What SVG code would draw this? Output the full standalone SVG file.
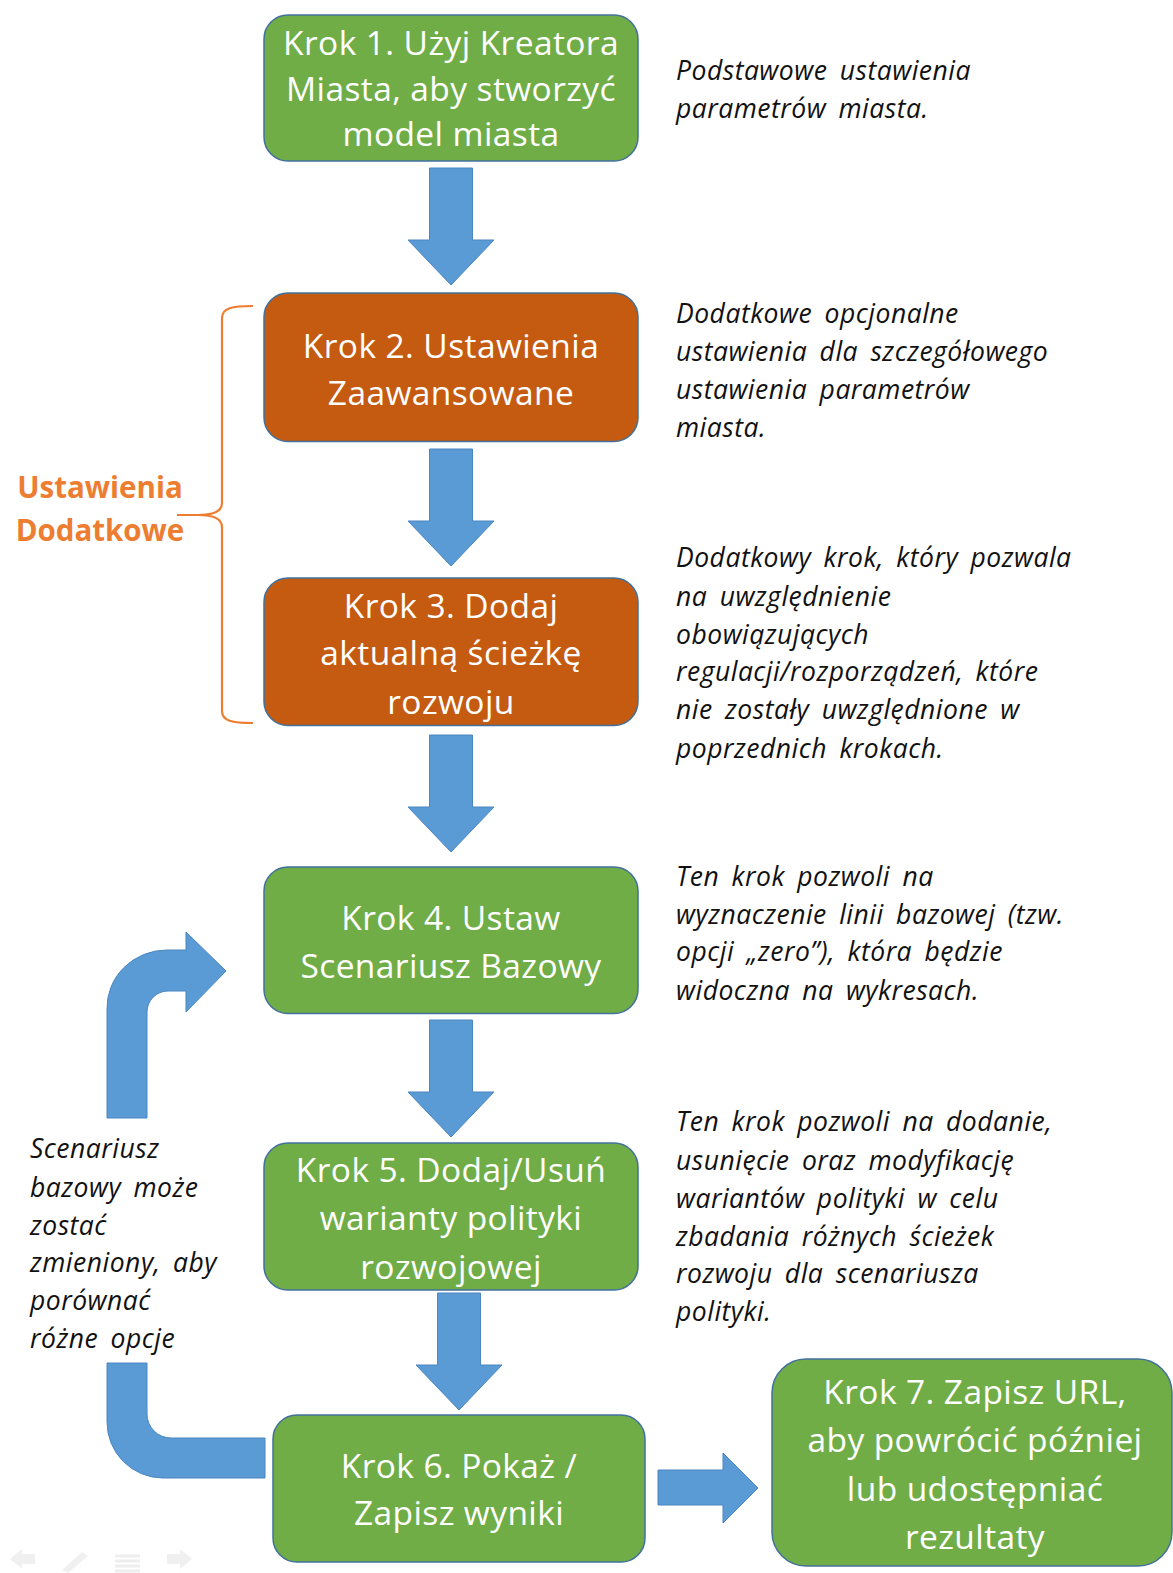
<svg xmlns="http://www.w3.org/2000/svg" xmlns:xlink="http://www.w3.org/1999/xlink" width="1173" height="1573" viewBox="0 0 1173 1573">
<defs>
<style>
.g{fill:#70AD47;stroke:#41719C;stroke-width:1.5}
.o{fill:#C55A11;stroke:#41719C;stroke-width:1.5}
.bt{font-family:"Open Sans","Liberation Sans",sans-serif;font-size:33.5px;letter-spacing:0.4px;fill:#ffffff;text-anchor:middle}
.it{font-family:"Open Sans","Liberation Sans",sans-serif;font-style:italic;font-size:26.5px;letter-spacing:0.5px;word-spacing:5px;fill:#111111}
.ot{font-family:"Open Sans","Liberation Sans",sans-serif;font-weight:bold;font-size:29.5px;fill:#ED7D31;text-anchor:middle}
.ar{fill:#5B9BD5;stroke:#4a86c0;stroke-width:1}
.ic{fill:#f0f0f0}
</style>
<path id="dn" d="M-21.5,0 h43 v72 h21.5 l-43,45 l-43,-45 h21.5 z"/>
</defs>
<rect width="1173" height="1573" fill="#ffffff"/>

<g id="connectors">
<use xlink:href="#dn" class="ar" x="451" y="168"/>
<use xlink:href="#dn" class="ar" x="451" y="449"/>
<use xlink:href="#dn" class="ar" x="451" y="735"/>
<use xlink:href="#dn" class="ar" x="451" y="1020"/>
<use xlink:href="#dn" class="ar" x="459" y="1293"/>
<path class="ar" d="M658,1470 H723 V1453 L758,1488 L723,1523 V1505 H658 Z"/>
<path class="ar" d="M107,1118 L107,1010 A60,58 0 0 1 167,950 L186,950 L186,932 L226,971 L186,1012 L186,991 L168,991 A21,21 0 0 0 147,1012 L147,1118 Z"/>
<path class="ar" d="M107,1363 L147,1363 L147,1414 A24,24 0 0 0 171,1438 L265,1438 L265,1478 L163,1478 A56,56 0 0 1 107,1422 Z"/>
</g>

<g id="bracket">
<path d="M253,306 C232,306 222,308 222,318 L222,503 C222,511 214,515 198,515 L177,515 M198,515 C214,515 222,519 222,527 L222,711 C222,721 232,723 253,723" fill="none" stroke="#ED7D31" stroke-width="2.2"/>
<text class="ot" x="100" y="498">Ustawienia</text>
<text class="ot" x="100" y="541">Dodatkowe</text>
</g>

<g id="step1">
<rect class="g" x="264" y="15" width="374" height="146" rx="24"/>
<text class="bt" x="451" y="55">Krok 1. Użyj Kreatora</text>
<text class="bt" x="451" y="101">Miasta, aby stworzyć</text>
<text class="bt" x="451" y="146">model miasta</text>
</g>
<g id="step2">
<rect class="o" x="264" y="293" width="374" height="148.5" rx="24"/>
<text class="bt" x="451" y="358">Krok 2. Ustawienia</text>
<text class="bt" x="451" y="405">Zaawansowane</text>
</g>
<g id="step3">
<rect class="o" x="264" y="578" width="374" height="147.5" rx="24"/>
<text class="bt" x="451" y="618">Krok 3. Dodaj</text>
<text class="bt" x="451" y="665">aktualną ścieżkę</text>
<text class="bt" x="451" y="714">rozwoju</text>
</g>
<g id="step4">
<rect class="g" x="264" y="867" width="374" height="146.5" rx="24"/>
<text class="bt" x="451" y="930">Krok 4. Ustaw</text>
<text class="bt" x="451" y="978">Scenariusz Bazowy</text>
</g>
<g id="step5">
<rect class="g" x="264" y="1143" width="374" height="147" rx="24"/>
<text class="bt" x="451" y="1182">Krok 5. Dodaj/Usuń</text>
<text class="bt" x="451" y="1230">warianty polityki</text>
<text class="bt" x="451" y="1279">rozwojowej</text>
</g>
<g id="step6">
<rect class="g" x="273" y="1415" width="372" height="147" rx="24"/>
<text class="bt" x="459" y="1478">Krok 6. Pokaż /</text>
<text class="bt" x="459" y="1525">Zapisz wyniki</text>
</g>
<g id="step7">
<rect class="g" x="772" y="1359" width="400" height="207" rx="34"/>
<text class="bt" x="975" y="1404">Krok 7. Zapisz URL,</text>
<text class="bt" x="975" y="1452">aby powrócić później</text>
<text class="bt" x="975" y="1501">lub udostępniać</text>
<text class="bt" x="975" y="1549">rezultaty</text>
</g>

<g id="notes">
<text class="it" x="676" y="80">Podstawowe ustawienia</text>
<text class="it" x="676" y="118">parametrów miasta.</text>

<text class="it" x="676" y="323">Dodatkowe opcjonalne</text>
<text class="it" x="676" y="361">ustawienia dla szczegółowego</text>
<text class="it" x="676" y="399">ustawienia parametrów</text>
<text class="it" x="676" y="437">miasta.</text>

<text class="it" x="676" y="567">Dodatkowy krok, który pozwala</text>
<text class="it" x="676" y="606">na uwzględnienie</text>
<text class="it" x="676" y="644">obowiązujących</text>
<text class="it" x="676" y="681">regulacji/rozporządzeń, które</text>
<text class="it" x="676" y="719">nie zostały uwzględnione w</text>
<text class="it" x="676" y="758">poprzednich krokach.</text>

<text class="it" x="676" y="886">Ten krok pozwoli na</text>
<text class="it" x="676" y="924">wyznaczenie linii bazowej (tzw.</text>
<text class="it" x="676" y="961">opcji „zero”), która będzie</text>
<text class="it" x="676" y="1000">widoczna na wykresach.</text>

<text class="it" x="676" y="1131">Ten krok pozwoli na dodanie,</text>
<text class="it" x="676" y="1170">usunięcie oraz modyfikację</text>
<text class="it" x="676" y="1208">wariantów polityki w celu</text>
<text class="it" x="676" y="1246">zbadania różnych ścieżek</text>
<text class="it" x="676" y="1283">rozwoju dla scenariusza</text>
<text class="it" x="676" y="1321">polityki.</text>

<text class="it" x="30" y="1158">Scenariusz</text>
<text class="it" x="30" y="1197">bazowy może</text>
<text class="it" x="30" y="1235">zostać</text>
<text class="it" x="30" y="1272">zmieniony, aby</text>
<text class="it" x="30" y="1310">porównać</text>
<text class="it" x="30" y="1348">różne opcje</text>
</g>

<g id="nav-icons">
<path class="ic" d="M10,1559 L22,1549 V1554 H35 V1564 H22 V1569 Z"/>
<path class="ic" d="M62,1570 L82,1552 L88,1556 L68,1573 Z"/>
<path d="M115,1556 H140 M115,1561 H140 M115,1566 H140 M115,1571 H140" stroke="#eeeeee" stroke-width="3"/>
<path class="ic" d="M192,1559 L180,1549 V1554 H167 V1564 H180 V1569 Z"/>
</g>
</svg>
